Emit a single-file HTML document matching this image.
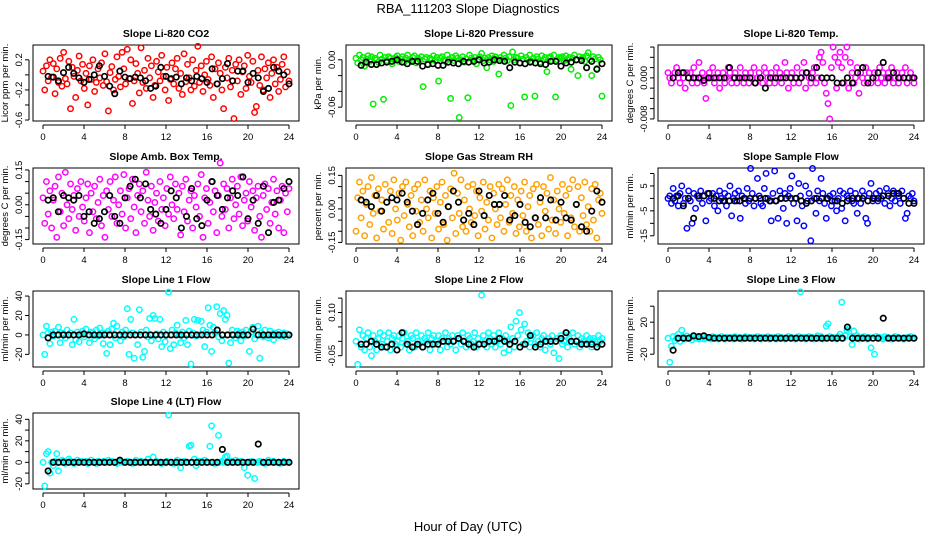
<!DOCTYPE html>
<html><head><meta charset="utf-8"><style>
html,body{margin:0;padding:0;background:#fff;}
svg{display:block;font-family:"Liberation Sans",Arial,sans-serif;}
</style></head><body>
<svg id="chart" width="936" height="540" viewBox="0 0 936 540" xmlns="http://www.w3.org/2000/svg">
<text x="468" y="13" text-anchor="middle" font-size="13">RBA_111203  Slope Diagnostics</text>
<text x="468" y="531" text-anchor="middle" font-size="13">Hour of Day (UTC)</text>
</svg>
<script>
const titles = ["Slope Li-820 CO2","Slope Li-820 Pressure","Slope Li-820 Temp.","Slope Amb. Box Temp.","Slope Gas Stream RH","Slope Sample Flow","Slope Line 1 Flow","Slope Line 2 Flow","Slope Line 3 Flow","Slope Line 4 (LT) Flow"];
const yTitles = ["Licor ppm per min.","kPa per min.","degrees C per min.","degrees C per min.","percent per min.","ml/min per min.","ml/min per min.","ml/min per min.","ml/min per min.","ml/min per min."];
const yLims = [[-0.613,0.397],[-0.0775,0.01875],[-0.0084,0.0064],[-0.169,0.1585],[-0.157,0.183],[-18.3,12.2],[-33,45.2],[-0.0892,0.1747],[-36,59],[-24.8,45.9]];
const yTicks = [[0.2,0,-0.2,-0.4,-0.6],[0,-0.02,-0.04,-0.06],[0.006,0.004,0.002,0,-0.002,-0.004,-0.006,-0.008],[0.15,0.1,0.05,0,-0.05,-0.1,-0.15],[0.15,0.1,0.05,0,-0.05,-0.1,-0.15],[10,5,0,-5,-10,-15],[40,20,0,-20],[0.15,0.1,0.05,0,-0.05],[40,20,0,-20],[40,30,20,10,0,-10,-20]];
const yTickLabels = [["0.2","","-0.2","","-0.6"],["0.00","","","-0.06"],["","","","0.000","","","","-0.008"],["0.15","","","0.00","","","-0.15"],["0.15","","","0.00","","","-0.15"],["","5","","-5","","-15"],["40","20","0","-20"],["","0.10","","","-0.05"],["","20","","-20"],["40","","20","","0","","-20"]];
const xTicks = [0,4,8,12,16,20,24];
const colors = ["#ff0000","#00ee00","#ff00ff","#ff00ff","#ffa000","#0000ff","#00ffff","#00ffff","#00ffff","#00ffff"];
const scales = [0.01,0.001,0.001,0.01,0.01,1,1,0.01,1,1];
const c1=[5,-20,12,-8,20,-3,15,-25,8,-10,22,-15,30,-5,-12,18,-45,10,-2,-30,6,25,-8,14,-18,2,-40,12,-6,20,-22,-10,8,-4,16,-14,28,-9,-48,3,11,-20,-6,24,-2,-16,30,8,-12,34,-5,20,-38,-8,15,2,-24,36,-10,6,-18,22,-4,12,-30,-14,18,4,-8,26,-2,-20,10,-34,-6,16,-12,8,22,-18,2,-26,28,-9,14,-4,-20,20,-15,6,38,-10,12,-22,0,18,-6,-14,24,-30,8,-12,16,2,-20,-45,10,-4,22,-16,6,-58,14,-8,20,-26,4,12,-18,26,-2,-10,18,-50,-42,6,-14,24,-20,8,-4,16,-30,2,20,-12,10,-22,-6,14,24,-16,4,-8];
const b1=[-2,-3,-8,3,10,2,-4,-10,-6,0,12,-2,-15,-25,5,-3,-5,-3,-4,-8,-18,-15,10,-2,-5,-3,-12,-4,-8,-2,-5,-10,8,-12,-5,15,-8,5,5,-10,2,-4,-22,-18,10,5,0,-12];
const c2=[2,-4,6,0,3,-8,1,5,-2,4,-56,2,0,-3,6,1,-50,3,-1,4,2,-5,0,3,5,-2,1,4,-3,2,6,0,-1,3,5,-4,2,0,4,-34,1,3,-6,2,0,5,-1,3,-27,2,4,0,-2,6,1,-49,3,-1,5,2,-73,0,4,-3,1,-48,6,2,0,3,-5,1,4,8,-1,2,-10,3,0,5,-2,4,1,-18,3,0,6,2,-1,4,-58,10,0,3,2,-4,5,1,-47,3,0,6,-2,2,-46,4,1,-3,5,0,3,-15,2,4,-1,6,-47,0,3,2,4,-1,5,0,3,-12,2,6,0,-20,4,1,3,-2,5,9,0,-20,4,1,-11,3,0,-46];
const b2=[-7,-3,-6,-6,-4,-3,-2,0,-3,-5,-2,-2,-8,-6,-5,-7,-7,-3,-4,-5,-2,-3,-2,0,-4,-3,0,-1,-2,-10,-3,-4,-5,-3,-4,-5,-6,-2,-2,-8,-4,-3,0,-1,-10,-2,-12,-5];
const c3=[1,0,-1,0,1,2,0,-1,1,0,-2,1,0,1,-1,2,0,-1,3,0,1,-1,-4,0,1,0,2,-1,0,1,-2,0,1,-1,0,2,1,-1,0,1,-1,0,2,0,-1,1,0,-1,1,0,2,-1,0,1,0,-1,2,1,0,-1,1,0,-1,2,0,1,-1,0,3,1,-2,0,1,-1,0,2,-1,0,1,3,-2,1,0,-1,1,2,-1,0,4,5,3,-1,-3,-5,-8,2,6,4,-2,3,5,2,-1,4,6,-2,3,1,-1,0,2,-3,1,0,-1,2,0,1,-1,0,1,0,-1,2,0,1,-1,0,1,0,2,-1,0,1,-1,0,1,0,2,-1,0,1,0,-1];
const b3=[0,1,1,0,0,0,-0.5,0,0,0,0,2,0,0,0,0,-1,0,-2,0,0,0,0,0,0,0,1,0,2,0,0,0,-1,-1,0,-1,1,2,-1,0,1,3,0,1,0,0,0,0];
const c4=[3,-8,10,-4,6,-10,2,8,-14,12,-3,5,-9,14,0,-6,9,-2,4,-11,7,-5,10,-1,-7,3,9,-12,5,-3,8,-6,1,11,-9,4,-14,6,-2,10,-5,2,12,-8,0,6,-4,13,-10,3,7,-6,11,-1,-12,4,9,-3,6,-8,14,2,-5,8,-11,1,5,-7,10,-2,3,-9,7,-4,12,0,-6,9,-2,5,-13,8,-3,11,-7,2,6,-10,4,-1,9,-5,13,-14,3,7,-8,1,10,-3,6,-12,4,18,-5,9,-2,7,-10,3,11,-6,0,8,-4,12,-9,2,5,-7,10,-1,6,-11,3,8,-5,-14,4,9,-2,7,-8,1,11,-4,6,-10,2,8,-12,5,-3,7];
const b4=[2,3,-3,4,3,2,4,-5,-3,-8,-6,-3,4,-5,-8,3,8,11,3,9,-2,-4,-8,-2,6,3,-10,-5,7,-6,-9,2,10,4,-2,3,6,4,12,-6,2,-8,8,-12,1,2,7,10];
const c5=[-10,5,12,-4,8,-12,2,10,-7,14,-2,6,-13,9,-1,4,-9,11,3,-6,8,-11,13,0,-5,7,-14,10,-3,12,2,-8,6,-12,9,-1,11,-6,4,-10,13,0,-4,8,-13,5,-2,10,-9,3,12,-7,6,-14,1,9,-4,16,-11,7,-2,13,-8,4,-10,10,0,-6,11,-3,8,-12,5,-1,12,-9,3,-5,10,-13,7,0,-7,11,-4,9,-10,2,13,-6,6,-2,10,-11,4,-8,8,-3,12,-10,1,6,-13,9,-4,11,-7,3,-12,10,-1,7,-9,14,-5,4,-11,8,0,-6,11,-2,6,-12,9,-4,13,-8,2,10,-10,5,-3,12,-7,1,-10,9,-5,11,-13,4,7,-2];
const b5=[4,3,1,6,-1,3,5,4,7,3,-1,-7,-2,4,7,-2,-6,1,8,3,-5,-2,-7,8,-3,6,2,2,6,-5,-3,2,-6,-8,-4,5,-4,4,-5,3,-4,-5,2,-8,-10,-1,8,3];
const c6=[0,1,-2,4,-1,1,-3,2,5,-2,0,-12,3,-1,-10,2,-4,1,0,3,-2,1,-9,2,-1,0,2,-3,1,-5,3,0,-1,2,-3,1,5,-7,0,2,-1,3,-8,1,0,-2,4,-1,12,2,-3,0,8,1,-2,-3,4,10,0,-1,-9,2,11,-1,-8,3,0,-4,2,-10,1,4,9,-2,0,-9,6,1,-3,-11,5,-1,2,-17,12,0,-6,3,-1,8,2,-2,-8,0,1,-3,2,-1,-5,0,3,-4,2,-9,1,0,3,-1,-2,2,-6,0,-2,3,1,-8,-10,2,6,-1,0,2,-1,3,0,1,-2,4,2,-3,0,3,-1,2,1,-2,3,0,-8,-6,1,0,2,-1];
const b6=[0,1,-3,0,-8,1,1,2,0,-1,-1,-1,-1,-1,0,0,0,0,0,-1,-1,0,0,0,0,-1,-2,-1,0,0,0,-1,-1,-2,-1,0,0,0,-1,0,0,1,1,2,2,0,-2,-2];
const c7=[0,-20,9,2,-9,3,-1,4,0,8,-8,2,1,-3,5,0,2,-10,16,-5,3,-7,1,4,-2,6,0,-8,3,2,-4,5,-1,7,0,-9,2,-19,4,-10,6,12,-3,9,0,-6,3,-2,5,27,-20,16,2,-24,0,-10,26,3,-23,-17,5,-2,17,-6,20,17,1,-4,16,-12,3,-7,0,44,-14,5,-10,2,10,0,-8,3,-3,15,-10,4,-30,2,16,-1,15,0,14,5,-12,3,28,10,-17,8,2,29,-2,22,-6,25,16,20,-29,-8,5,0,-3,4,2,-6,3,-1,5,0,-17,3,8,-4,0,9,-24,2,-2,5,0,-3,4,1,-5,2,0,3,-1,0,2,-2,1,0];
const b7=[-3,0,0,0,0,0,0,1,0,0,0,0,0,0,0,0,0,0,0,0,0,0,0,0,0,0,0,0,0,0,0,0,0,5,0,0,0,0,0,0,6,0,0,0,0,0,0,0];
const c8=[0,-8,4,-2,2,-3,1,3,-2,-5,2,0,-3,1,3,-1,2,-2,0,3,-3,1,2,-1,0,2,-2,1,3,-1,0,-3,2,1,-2,3,0,-1,2,-2,1,0,3,-3,1,2,-1,0,2,-3,1,0,3,-2,1,-1,2,0,-3,2,1,-1,3,0,-2,2,1,-1,0,3,-2,1,-1,16,2,0,-2,3,1,-1,2,-2,0,3,-1,1,-4,2,0,-3,5,1,-2,7,2,10,4,-1,6,0,3,-2,1,2,-1,3,0,-2,1,2,-3,0,1,-1,2,-4,0,1,-6,2,-1,0,2,-2,1,0,3,-1,0,2,-2,1,0,-1,2,0,1,-2,1,0,-1,2,0,1];
const b8=[-1,-1,0,-1,-2,-2,-1,-3,3,-1,-2,-1,-2,-1,-1,-1,0,0,0,1,0,-1,-2,-1,-1,0,0,1,0,-1,0,-2,-1,2,-2,-1,0,0,0,1,3,0,0,-1,-1,-1,-2,-1];
const c9=[0,-30,-10,2,-3,0,5,-4,10,2,-1,3,0,1,-2,2,0,1,-1,0,2,-1,0,1,0,-1,2,0,1,-1,0,2,0,-1,1,0,0,1,-1,2,0,0,1,-1,0,2,0,1,0,1,-1,0,2,0,-1,1,0,0,2,-1,0,1,0,-1,2,0,1,0,-1,0,2,0,1,0,-1,0,2,58,0,1,-1,0,2,0,1,-1,0,3,0,2,-1,0,15,18,2,0,1,0,-1,2,5,45,0,3,10,12,2,-8,9,0,3,-1,1,0,2,0,-1,1,-12,0,-20,2,0,1,0,-1,2,0,1,0,-1,0,2,0,1,0,0,-1,0,1,0,2,0,0];
const b9=[-15,0,0,0,3,2,3,1,0,0,0,0,0,0,0,0,0,0,0,0,0,0,0,0,0,0,0,0,0,0,0,0,0,0,14,0,0,0,0,0,0,25,0,0,0,0,0,0];
const c10=[0,-22,8,10,-10,0,-3,1,8,-8,0,2,1,-1,0,3,1,0,-1,0,2,0,1,0,0,1,-1,0,2,0,0,-1,1,0,0,1,0,0,2,0,1,0,0,-1,0,1,0,0,0,1,0,0,-1,0,2,0,0,1,0,0,0,3,0,0,5,0,1,0,0,-1,0,0,1,44,0,0,-1,0,2,0,-5,0,1,0,0,15,16,0,3,-3,0,1,0,0,2,0,0,15,34,0,-1,0,25,0,1,0,5,6,0,1,0,0,2,0,0,1,0,-5,0,-12,0,1,0,-15,0,0,1,0,0,-1,0,2,0,0,1,0,0,0,-1,0,1,0,0,0];
const b10=[-8,0,0,0,0,0,0,0,0,0,0,0,0,0,2,0,0,0,0,0,0,0,0,0,0,0,0,0,0,0,0,0,0,0,12,0,0,0,0,0,0,17,0,0,0,0,0,0];
const colorSeries=[c1,c2,c3,c4,c5,c6,c7,c8,c9,c10];
const blackSeries=[b1,b2,b3,b4,b5,b6,b7,b8,b9,b10];

const NS="http://www.w3.org/2000/svg";
const svg=document.getElementById('chart');
function mk(tag,attrs,parent){const e=document.createElementNS(NS,tag);for(const k in attrs)e.setAttribute(k,attrs[k]);(parent||svg).appendChild(e);return e;}
const colL=[33,346,658], rowT=[45,168,291,413], W=266, H=76;
for(let p=0;p<10;p++){
  const L=colL[p%3], T=rowT[Math.floor(p/3)];
  const g=mk('g',{});
  
  
  const xs=h=>L+10+h*(W-20)/24;
  const [y0,y1]=yLims[p];
  const ys=v=>T+H-(v-y0)/(y1-y0)*H;
  const t=mk('text',{x:L+W/2,y:T-8,'text-anchor':'middle','font-size':10.5,'font-weight':'bold'},g);
  t.textContent=titles[p];
  
  
  const yt=mk('text',{transform:`translate(${L-25},${T+H/2}) rotate(-90)`,'text-anchor':'middle','font-size':9.5},g);
  yt.textContent=yTitles[p];
  
  
  const yt0=ys(yTicks[p][0]), yt1=ys(yTicks[p][yTicks[p].length-1]);
  mk('line',{x1:L-4,x2:L-4,y1:yt0,y2:yt1,stroke:'#000'},g);
  yTicks[p].forEach((v,i)=>{
    const y=ys(v);
    mk('line',{x1:L-8,x2:L-4,y1:y,y2:y,stroke:'#000'},g);
    if(yTickLabels[p][i]){const tl=mk('text',{transform:`translate(${L-11},${y}) rotate(-90)`,'text-anchor':'middle','font-size':9.5},g);
    tl.textContent=yTickLabels[p][i];
    
    }
  });
  mk('line',{x1:xs(0),x2:xs(24),y1:T+H+4,y2:T+H+4,stroke:'#000'},g);
  xTicks.forEach(h=>{
    const x=xs(h);
    mk('line',{x1:x,x2:x,y1:T+H+4,y2:T+H+8,stroke:'#000'},g);
    const tl=mk('text',{x:x,y:T+H+19,'text-anchor':'middle','font-size':9.5},g);
    tl.textContent=h;
    
    
  });
  const box=mk('rect',{x:L,y:T,width:W,height:H,fill:'none',stroke:'#000'},g);
  
  
  const cs=colorSeries[p], n=cs.length, sc=scales[p];
  cs.forEach((v,i)=>{
    const c=mk('circle',{cx:xs(i*24/(n-1)),cy:ys(v*sc),r:2.7,fill:'none',stroke:colors[p],'stroke-width':1.5},g);
    
    
  });
  const bs=blackSeries[p], m=bs.length;
  bs.forEach((v,i)=>{
    const c=mk('circle',{cx:xs(0.5+i*23.5/(m-1)),cy:ys(v*sc),r:2.7,fill:'none',stroke:'#000','stroke-width':1.7},g);
    
    
  });
}
</script>
</body></html>
